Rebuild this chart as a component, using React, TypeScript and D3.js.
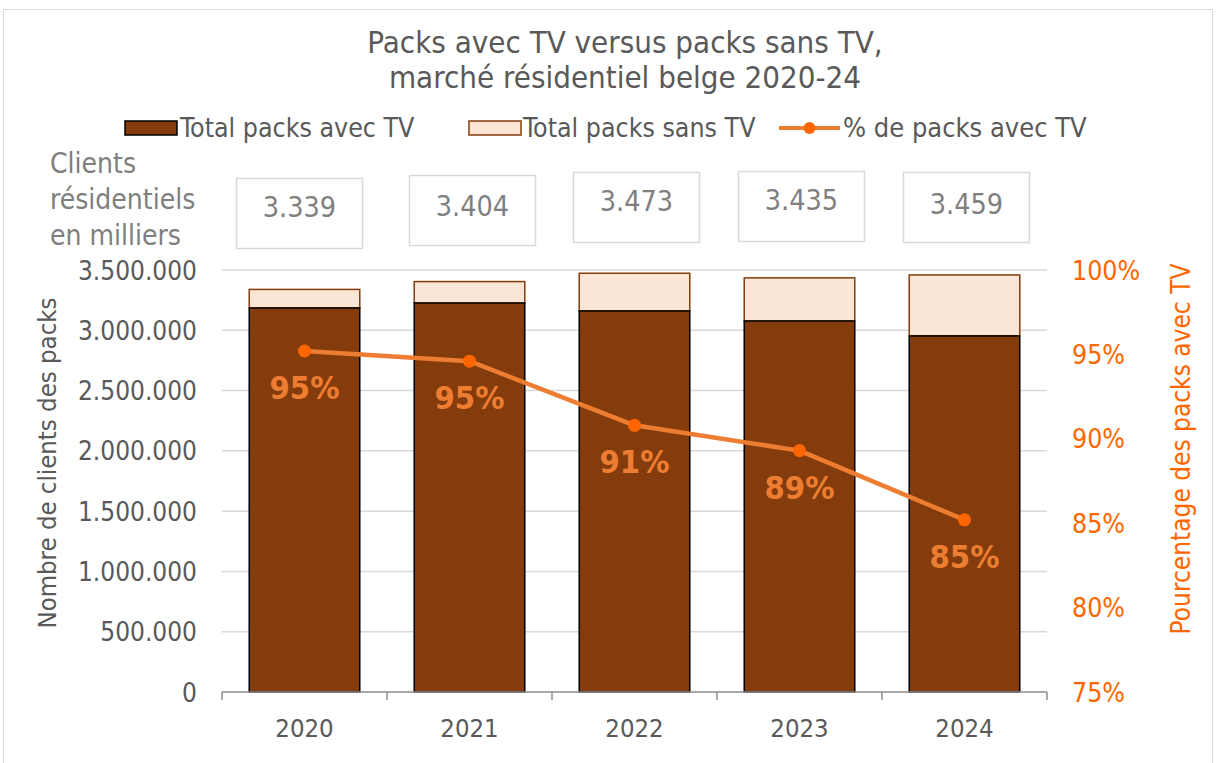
import React from "react";
import * as d3 from "d3";

const years = ["2020", "2021", "2022", "2023", "2024"];
const packsAvecTV = [3185000, 3226000, 3160000, 3077000, 2953000];
const totalClients = [3339000, 3404000, 3473000, 3435000, 3459000];
const totalLabels = ["3.339", "3.404", "3.473", "3.435", "3.459"];
const pctAvecTV = [95.2, 94.6, 90.8, 89.3, 85.2];
const pctLabels = ["95%", "95%", "91%", "89%", "85%"];
const leftTicks = [0, 500000, 1000000, 1500000, 2000000, 2500000, 3000000, 3500000];
const rightTicks = [75, 80, 85, 90, 95, 100];

// layout of the annotation boxes (not data)
const boxTops = [178, 175, 172, 171, 172];
const boxShiftX = [-5, 3, 2, 2, 2];
const boxTextCenters = [206, 205, 200, 199, 203];

const W = 1216, H = 763;
const M = { left: 222, right: 1047, top: 270, bottom: 692 };
const FONT = "'DejaVu Sans Condensed', 'DejaVu Sans', Verdana, sans-serif";

export default function App() {
  const x = d3.scaleBand<string>().domain(years).range([M.left, M.right]).paddingInner(0.33).paddingOuter(0.165);
  const xb = d3.scaleBand<string>().domain(years).range([M.left, M.right]);
  const y = d3.scaleLinear().domain([0, 3500000]).range([M.bottom, M.top]);
  const y2 = d3.scaleLinear().domain([75, 100]).range([M.bottom, M.top]);
  const fmt = (v: number) => d3.format(",")(v).replace(/,/g, ".");
  const cx = (i: number) => xb(years[i])! + xb.bandwidth() / 2;
  const line = d3.line<number>().x((_, i) => cx(i)).y((d) => y2(d));
  const grey = "#595959";
  const lightGrey = "#7f7f7f";

  return (
    <svg width={W} height={H} style={{ position: "absolute", left: 0, top: 0, fontFamily: FONT }}>
      <rect x={3.5} y={9.5} width={1209} height={H} fill="#fff" stroke="#d9d9d9" />
      <text x={625} y={53} textAnchor="middle" fontSize={31} fill={grey}>Packs avec TV versus packs sans TV,</text>
      <text x={625} y={88} textAnchor="middle" fontSize={31} fill={grey}>marché résidentiel belge 2020-24</text>

      {/* legend */}
      <rect x={125} y={121} width={52} height={14} fill="#843C0C" stroke="#000" strokeWidth={1.5} />
      <text x={180} y={137} fontSize={26.5} fill={grey}>Total packs avec TV</text>
      <rect x={469} y={121} width={52} height={14} fill="#FBE5D6" stroke="#843C0C" strokeWidth={1.5} />
      <text x={523} y={137} fontSize={26.5} fill={grey}>Total packs sans TV</text>
      <line x1={779} x2={840} y1={128} y2={128} stroke="#ED7D31" strokeWidth={4} />
      <circle cx={809.5} cy={128} r={6} fill="#FF6600" />
      <text x={843} y={137} fontSize={27} fill={grey}>% de packs avec TV</text>

      {/* clients text */}
      <text x={50} y={173} fontSize={28} fill={lightGrey}>Clients</text>
      <text x={50} y={209} fontSize={28} fill={lightGrey}>résidentiels</text>
      <text x={50} y={245} fontSize={28} fill={lightGrey}>en milliers</text>
      {years.map((yr, i) => (
        <g key={"box" + yr}>
          <rect x={cx(i) + boxShiftX[i] - 63} y={boxTops[i] + 0.5} width={126} height={70} fill="#fff" stroke="#d9d9d9" strokeWidth={1.5} />
          <text x={cx(i) + boxShiftX[i]} y={boxTextCenters[i] + 10.5} textAnchor="middle" fontSize={28.5} fill={lightGrey}>{totalLabels[i]}</text>
        </g>
      ))}

      {/* gridlines */}
      {leftTicks.slice(1).map((t) => (
        <line key={"g" + t} x1={M.left} x2={M.right} y1={y(t)} y2={y(t)} stroke="#d9d9d9" strokeWidth={1.5} />
      ))}

      {/* bars */}
      {years.map((yr, i) => (
        <g key={"bar" + yr}>
          <rect x={x(yr)!} y={y(totalClients[i])} width={x.bandwidth()} height={y(packsAvecTV[i]) - y(totalClients[i])} fill="#FBE5D6" stroke="#843C0C" strokeWidth={1.5} />
          <rect x={x(yr)!} y={y(packsAvecTV[i])} width={x.bandwidth()} height={y(0) - y(packsAvecTV[i])} fill="#843C0C" stroke="#000" strokeWidth={1.5} />
        </g>
      ))}

      {/* x axis */}
      <line x1={M.left} x2={M.right} y1={M.bottom} y2={M.bottom} stroke="#8c8c8c" strokeWidth={1.5} />
      {years.map((yr) => (
        <line key={"t" + yr} x1={xb(yr)!} x2={xb(yr)!} y1={M.bottom} y2={M.bottom + 8} stroke="#8c8c8c" strokeWidth={1.5} />
      ))}
      <line x1={M.right} x2={M.right} y1={M.bottom} y2={M.bottom + 8} stroke="#8c8c8c" strokeWidth={1.5} />
      {years.map((yr, i) => (
        <text key={"xl" + yr} x={cx(i)} y={737} textAnchor="middle" fontSize={25.5} fill={grey}>{yr}</text>
      ))}

      {/* left axis */}
      {leftTicks.map((t) => (
        <text key={"yl" + t} x={197} y={y(t) + 9.5} textAnchor="end" fontSize={26} fill={grey}>{fmt(t)}</text>
      ))}
      <text transform={`translate(56,463) rotate(-90)`} textAnchor="middle" fontSize={25.5} fill={grey}>Nombre de clients des packs</text>

      {/* right axis */}
      {rightTicks.map((t) => (
        <text key={"yr" + t} x={1072} y={y2(t) + 9.5} fontSize={26.5} fill="#FF6600">{t}%</text>
      ))}
      <text transform={`translate(1190,449) rotate(-90)`} textAnchor="middle" fontSize={26} fill="#FF6600">Pourcentage des packs avec TV</text>

      {/* line */}
      <path d={line(pctAvecTV)!} fill="none" stroke="#ED7D31" strokeWidth={4.5} strokeLinejoin="round" />
      {pctAvecTV.map((p, i) => (
        <circle key={"c" + i} cx={cx(i)} cy={y2(p)} r={6.5} fill="#FF6600" />
      ))}
      {pctAvecTV.map((p, i) => (
        <text key={"pl" + i} x={cx(i)} y={y2(p) + 48} textAnchor="middle" fontSize={32.5} fontWeight="bold" fill="#ED7D31">{pctLabels[i]}</text>
      ))}
    </svg>
  );
}
